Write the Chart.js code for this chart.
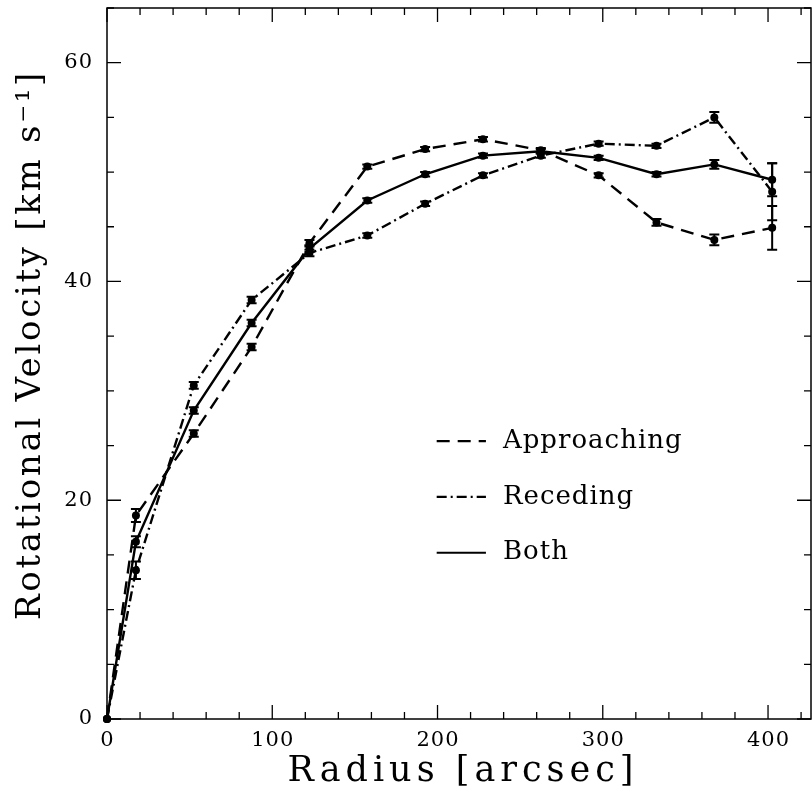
<!DOCTYPE html>
<html>
<head>
<meta charset="utf-8">
<script src="https://cdn.jsdelivr.net/npm/chart.js@4"></script>
<style>
html,body{margin:0;padding:0;background:#fff;}
#wrap{width:812px;height:797px;}
</style>
</head>
<body>
<div id="wrap"><canvas id="c" width="812" height="797"></canvas></div>
<script>
const radius = [0, 17.5, 52.5, 87.5, 122.5, 157.5, 192.5, 227.5, 262.5, 297.5, 332.5, 367.5, 402.5];
const approaching = [0, 18.6, 26.1, 34.0, 43.5, 50.5, 52.1, 53.0, 52.0, 49.7, 45.4, 43.8, 44.9];
const approachingErr = [0, 0.6, 0.3, 0.3, 0.3, 0.2, 0.2, 0.2, 0.2, 0.2, 0.3, 0.5, 2.0];
const receding = [0, 13.6, 30.5, 38.3, 42.6, 44.2, 47.1, 49.7, 51.5, 52.6, 52.4, 55.0, 48.2];
const recedingErr = [0, 0.8, 0.3, 0.3, 0.3, 0.2, 0.2, 0.2, 0.2, 0.2, 0.2, 0.5, 2.6];
const both = [0, 16.2, 28.2, 36.2, 43.0, 47.4, 49.8, 51.5, 51.9, 51.3, 49.8, 50.7, 49.3];
const bothErr = [0, 0.5, 0.3, 0.3, 0.3, 0.2, 0.2, 0.2, 0.2, 0.2, 0.2, 0.4, 1.5];
const seriesLabels = ['Approaching', 'Receding', 'Both'];
const xTickLabels = [0, 100, 200, 300, 400];
const yTickLabels = [0, 20, 40, 60];
const xTitle = 'Radius [arcsec]';
const yTitle = 'Rotational Velocity [km s\u207B\u00B9]';

const dashA = [13, 8];
const dashR = [10, 4, 2, 4];
const dashB = [];

function pts(vals){ return radius.map((r,i)=>({x:r, y:vals[i]})); }

const errs = [approachingErr, recedingErr, bothErr];
const dashes = [dashA, dashR, dashB];

const serif = '"DejaVu Serif", serif';

const framePlugin = {
  id: 'frame',
  afterDatasetsDraw(chart){
    const ctx = chart.ctx, a = chart.chartArea;
    const xs = chart.scales.x, ys = chart.scales.y;
    ctx.save();
    // error bars
    chart.data.datasets.forEach((ds, di) => {
      const e = errs[di];
      ctx.strokeStyle = '#000'; ctx.lineWidth = 2; ctx.setLineDash([]);
      ds.data.forEach((p, i) => {
        if (!e[i]) return;
        const px = xs.getPixelForValue(p.x);
        const y1 = ys.getPixelForValue(p.y + e[i]);
        const y2 = ys.getPixelForValue(p.y - e[i]);
        ctx.beginPath();
        ctx.moveTo(px, y1); ctx.lineTo(px, y2);
        ctx.moveTo(px-5, y1); ctx.lineTo(px+5, y1);
        ctx.moveTo(px-5, y2); ctx.lineTo(px+5, y2);
        ctx.stroke();
      });
    });
    // frame
    ctx.lineWidth = 1.5; ctx.strokeStyle = '#000';
    ctx.strokeRect(a.left, a.top, a.right - a.left, a.bottom - a.top);
    // ticks
    ctx.lineWidth = 1.3;
    for (let v = 0; v <= xs.max; v += 20) {
      const px = xs.getPixelForValue(v);
      const len = (v % 100 === 0) ? 14 : 7;
      ctx.beginPath();
      ctx.moveTo(px, a.bottom); ctx.lineTo(px, a.bottom - len);
      ctx.moveTo(px, a.top); ctx.lineTo(px, a.top + len);
      ctx.stroke();
    }
    for (let v = 0; v <= ys.max; v += 5) {
      const py = ys.getPixelForValue(v);
      const len = (v % 20 === 0) ? 14 : 7;
      ctx.beginPath();
      ctx.moveTo(a.left, py); ctx.lineTo(a.left + len, py);
      ctx.moveTo(a.right, py); ctx.lineTo(a.right - len, py);
      ctx.stroke();
    }
    // tick labels
    ctx.fillStyle = '#000';
    ctx.font = '21px ' + serif;
    ctx.letterSpacing = '1px';
    ctx.textBaseline = 'middle';
    ctx.textAlign = 'center';
    xTickLabels.forEach(v => ctx.fillText(String(v), xs.getPixelForValue(v) + 0.5, a.bottom + 22));
    ctx.textAlign = 'right';
    yTickLabels.forEach(v => ctx.fillText(String(v), a.left - 14, ys.getPixelForValue(v)));
    // legend
    const legY = [ys.getPixelForValue(25.4), ys.getPixelForValue(20.3), ys.getPixelForValue(15.2)];
    const lx1 = xs.getPixelForValue(199.5), lx2 = xs.getPixelForValue(229.3);
    ctx.font = '26px ' + serif;
    ctx.letterSpacing = '1px';
    ctx.textAlign = 'left';
    seriesLabels.forEach((lab, i) => {
      ctx.setLineDash(dashes[i]); ctx.lineWidth = 2.2;
      ctx.beginPath(); ctx.moveTo(lx1, legY[i]); ctx.lineTo(lx2, legY[i]); ctx.stroke();
      ctx.setLineDash([]);
      ctx.fillText(lab, lx2 + 17, legY[i]);
    });
    // axis titles
    ctx.font = '35px ' + serif;
    ctx.letterSpacing = '5px';
    ctx.textAlign = 'center';
    ctx.fillText(xTitle, 463, 772);
    ctx.save();
    ctx.translate(31, 345);
    ctx.rotate(-Math.PI/2);
    ctx.font = '34px ' + serif;
    ctx.letterSpacing = '2.7px';
    ctx.fillText(yTitle, 0, 0);
    ctx.restore();
    ctx.restore();
  }
};

new Chart(document.getElementById('c'), {
  type: 'line',
  data: {
    datasets: [
      {label: seriesLabels[0], data: pts(approaching), borderDash: dashA},
      {label: seriesLabels[1], data: pts(receding), borderDash: dashR},
      {label: seriesLabels[2], data: pts(both), borderDash: dashB}
    ].map(d => Object.assign(d, {
      borderColor: '#000', backgroundColor: '#000', borderWidth: 2.4,
      pointRadius: 4, pointBackgroundColor: '#000', pointBorderWidth: 0,
      tension: 0, fill: false, clip: false
    }))
  },
  options: {
    responsive: false,
    animation: false,
    layout: {autoPadding: false, padding: {top: 8, right: 1, left: 0, bottom: 0}},
    plugins: {legend: {display: false}, tooltip: {enabled: false}},
    scales: {
      x: {
        type: 'linear', min: 0, max: 426,
        grid: {display: false}, border: {display: false},
        ticks: {display: false},
        afterFit(s){ s.height = 78; }
      },
      y: {
        type: 'linear', min: 0, max: 65,
        grid: {display: false}, border: {display: false},
        ticks: {display: false},
        afterFit(s){ s.width = 107; }
      }
    }
  },
  plugins: [framePlugin]
});
</script>
</body>
</html>
